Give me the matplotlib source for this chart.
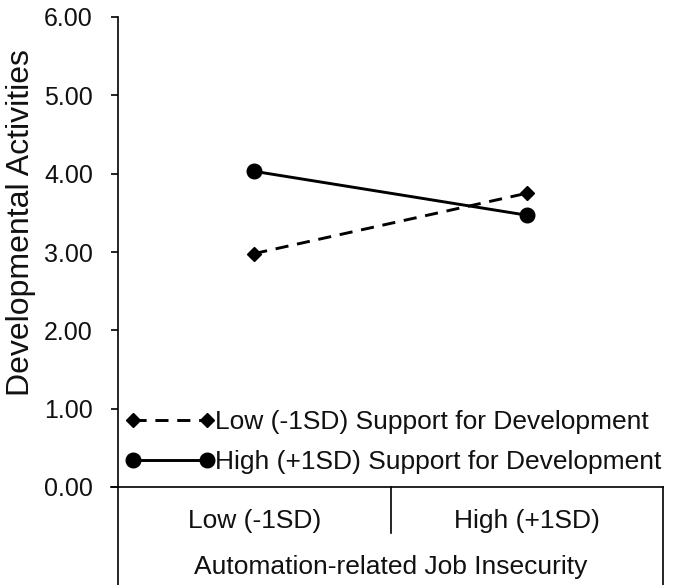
import matplotlib
matplotlib.use("Agg")
import matplotlib.pyplot as plt
from matplotlib.transforms import blended_transform_factory

plt.rcParams['font.family'] = ['Liberation Sans', 'DejaVu Sans']

categories = ["Low (-1SD)", "High (+1SD)"]
low_support = [2.98, 3.75]
high_support = [4.03, 3.47]
series_names = ["Low (-1SD) Support for Development", "High (+1SD) Support for Development"]
yticks = [0, 1, 2, 3, 4, 5, 6]
x_title = "Automation-related Job Insecurity"
y_title = "Developmental Activities"

W, H = 673, 585
fig = plt.figure(figsize=(W / 100, H / 100), dpi=100)
L, R, T, B = 118, 663, 17, 487
ax = fig.add_axes([L / W, 1 - B / H, (R - L) / W, (B - T) / H])
AH = B - T
AW = R - L

xs = [0.5, 1.5]
ax.plot(xs, low_support, color='black', lw=2.1, ls=(0, (4.5, 3)), marker='D', ms=7.5,
        label=series_names[0])
ax.plot(xs, high_support, color='black', lw=2.1, ls='-', marker='o', ms=10.5,
        label=series_names[1])

ax.set_xlim(0, 2)
ax.set_ylim(0, 6)
ax.set_yticks(yticks)
ax.set_yticklabels([f"{v:.2f}" for v in yticks], fontsize=18, color='#111111')
ax.set_xticks([])
for s in ['top', 'right']:
    ax.spines[s].set_visible(False)
ax.spines['left'].set_linewidth(1.2)
ax.spines['bottom'].set_linewidth(1.2)
ax.spines['left'].set_bounds(0, 6)
ax.tick_params(axis='y', direction='out', length=5, width=1.2, pad=13)
ax.set_ylabel(y_title, fontsize=23, color='#111111')
ax.yaxis.label.set_va('center')
ax.yaxis.set_label_coords((21 - L) / AW, (B - 223) / AH)

# category axis box
tr = blended_transform_factory(ax.transData, ax.transAxes)
ext_full = -(H - B) / AH
ext_cat = -(533 - B) / AH
ax.plot([0, 0], [0, ext_full], transform=tr, color='black', lw=1.2, clip_on=False)
ax.plot([2, 2], [0, ext_full], transform=tr, color='black', lw=1.2, clip_on=False)
ax.plot([1, 1], [0, ext_cat], transform=tr, color='black', lw=1.2, clip_on=False)
ax.plot([-7 / AW * 2, 0], [0, 0], transform=tr, color='black', lw=1.2, clip_on=False)
for x, c in zip(xs, categories):
    ax.text(x, -(521 - B) / AH, c, transform=tr, ha='center', va='center',
            fontsize=19, color='#111111')
ax.text(1, -(567 - B) / AH, x_title, transform=tr, ha='center', va='center',
        fontsize=19, color='#111111')

leg = ax.legend(loc='lower left', bbox_to_anchor=((125 - L) / AW, (487 - 474) / AH),
                frameon=False, fontsize=19, numpoints=2, handlelength=3.4,
                handletextpad=0.0, borderaxespad=0, borderpad=0, labelspacing=0.6)
for t in leg.get_texts():
    t.set_color('#111111')

fig.savefig("out.png", dpi=100)
